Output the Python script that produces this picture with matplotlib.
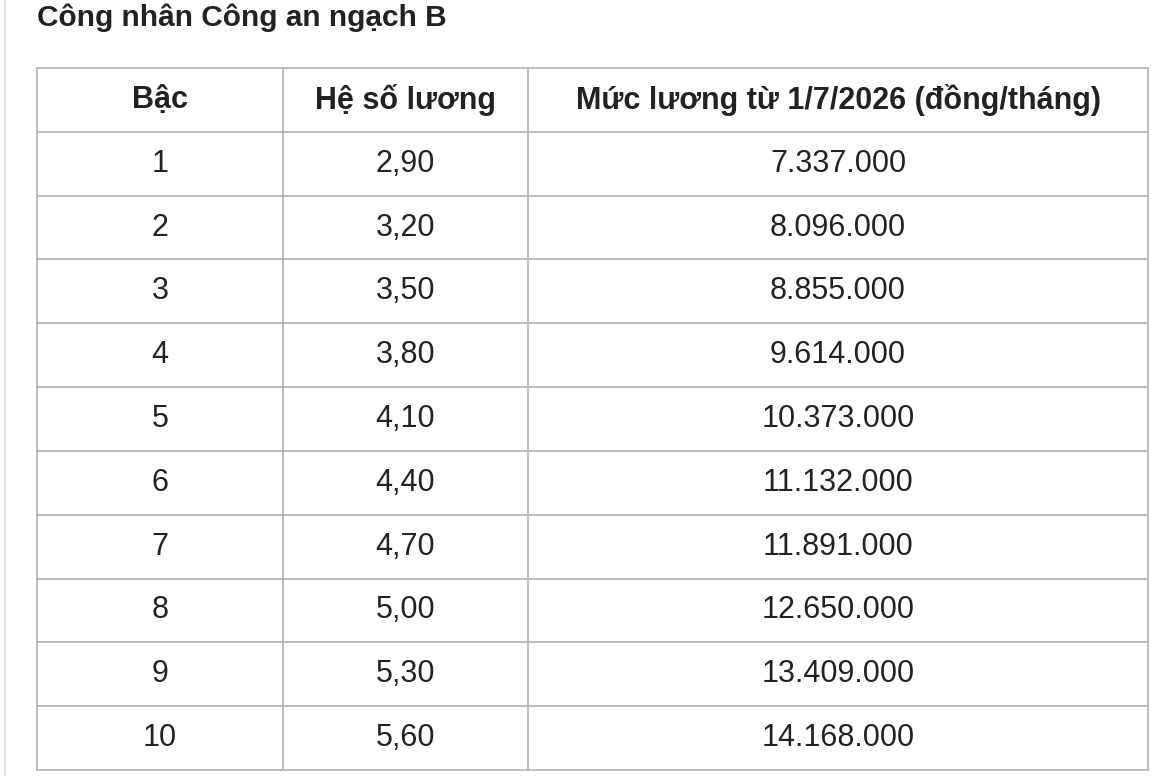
import matplotlib
matplotlib.use("Agg")
import matplotlib.pyplot as plt

title = "Công nhân Công an ngạch B"
headers = ["Bậc", "Hệ số lương", "Mức lương từ 1/7/2026 (đồng/tháng)"]
bac = ["1", "2", "3", "4", "5", "6", "7", "8", "9", "10"]
he_so = ["2,90", "3,20", "3,50", "3,80", "4,10", "4,40", "4,70", "5,00", "5,30", "5,60"]
muc_luong = ["7.337.000", "8.096.000", "8.855.000", "9.614.000", "10.373.000",
             "11.132.000", "11.891.000", "12.650.000", "13.409.000", "14.168.000"]

W, H = 1170, 776
fig = plt.figure(figsize=(W/100, H/100), dpi=100)
ax = fig.add_axes([0, 0, 1, 1])
ax.set_xlim(0, W); ax.set_ylim(H, 0); ax.axis("off")
plt.rcParams['font.family'] = ['Liberation Sans', 'DejaVu Sans']

col_x = [37, 283, 528, 1148]
top, bottom = 68, 770
nrows = len(bac) + 1
rh = (bottom - top) / nrows
lc = "#b0b0b0"
ax.plot([5, 5], [0, H], color="#e0e0e0", lw=1.5)
for i in range(nrows + 1):
    y = top + i * rh
    ax.plot([col_x[0], col_x[-1]], [y, y], color=lc, lw=1.2)
for x in col_x:
    ax.plot([x, x], [top, bottom], color=lc, lw=1.2)

ax.text(37, 18, title, fontsize=21.5, fontweight="bold", va="center", ha="left", color="#222")
centers = [(col_x[i] + col_x[i+1]) / 2 for i in range(3)]
for c, h in zip(centers, headers):
    ax.text(c, top + rh/2, h, fontsize=22, fontweight="bold", ha="center", va="center", color="#222")
for r, row in enumerate(zip(bac, he_so, muc_luong)):
    y = top + (r + 1.5) * rh
    for c, v in zip(centers, row):
        ax.text(c, y, v, fontsize=22, ha="center", va="center", color="#222")

fig.savefig("out.png", dpi=100)
